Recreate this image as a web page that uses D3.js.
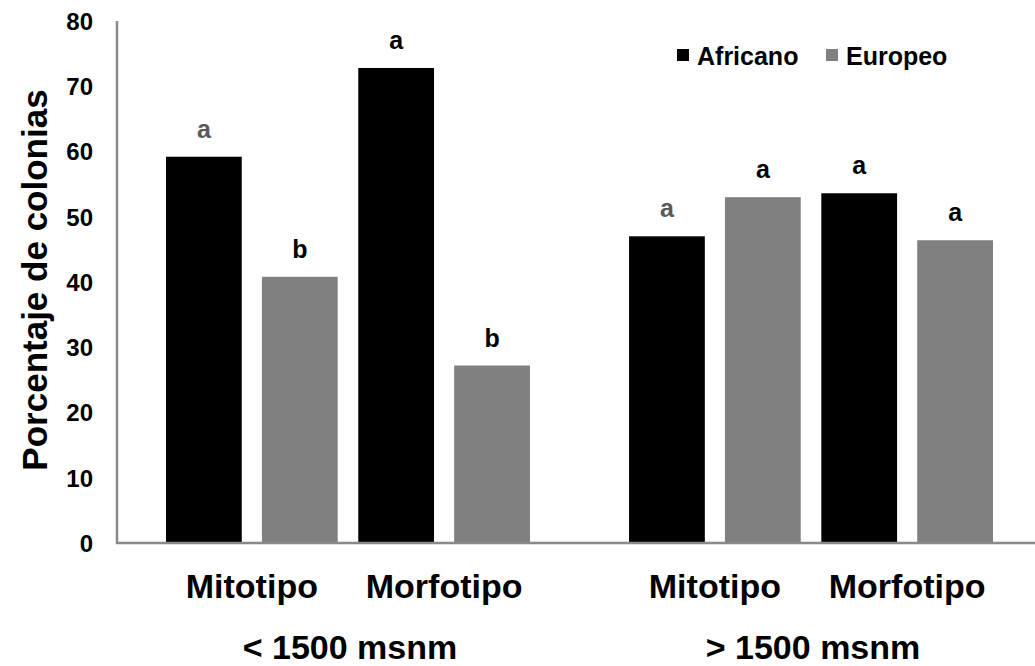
<!DOCTYPE html>
<html>
<head>
<meta charset="utf-8">
<script src="https://cdn.jsdelivr.net/npm/d3@7"></script>
<style>
  html, body { margin: 0; padding: 0; background: #fff; }
  svg { display: block; font-family: "Liberation Sans", Arial, sans-serif; font-weight: bold; }
</style>
</head>
<body>
<svg id="chart" width="1035" height="666"></svg>
<script>
// Altitude groups, colony classification method and bee lineage
const groups = ["< 1500 msnm", "> 1500 msnm"];
const categories = ["Mitotipo", "Morfotipo"];
const seriesNames = ["Africano", "Europeo"];

// Percentage of colonies, ordered group by group, category by category
const africano = [59.2, 72.8, 47.0, 53.6];
const europeo  = [40.8, 27.2, 53.0, 46.4];

// Significance letters over each bar
const africanoLetters = ["a", "a", "a", "a"];
const europeoLetters  = ["b", "b", "a", "a"];

const yTicks = [0, 10, 20, 30, 40, 50, 60, 70, 80];

// ---- styling ----
const colors = { Africano: "#000000", Europeo: "#808080" };
const axisColor = "#898989";
const mutedLetterColor = "#595959";
const mutedLetterKeys = ["< 1500 msnm|Mitotipo|Africano", "> 1500 msnm|Mitotipo|Africano"];

const svg = d3.select("#chart");

const y = d3.scaleLinear().domain([0, 80]).range([543, 21]);

const x0 = d3.scaleBand().domain(groups).range([119.7, 1039.3])
  .paddingInner(0.214).paddingOuter(0.1);
const x1 = d3.scaleBand().domain(categories).range([0, x0.bandwidth()])
  .paddingInner(0.107).paddingOuter(0);
const x2 = d3.scaleBand().domain(seriesNames).range([0, x1.bandwidth()])
  .paddingInner(0.21).paddingOuter(0);

// Flatten the series into one record per bar
const rows = [];
groups.forEach((g, gi) => {
  categories.forEach((c, ci) => {
    const i = gi * categories.length + ci;
    rows.push({ group: g, category: c, series: "Africano", value: africano[i], letter: africanoLetters[i] });
    rows.push({ group: g, category: c, series: "Europeo", value: europeo[i], letter: europeoLetters[i] });
  });
});
const barX = d => x0(d.group) + x1(d.category) + x2(d.series);

// Bars
svg.append("g").selectAll("rect").data(rows).join("rect")
  .attr("x", barX)
  .attr("y", d => y(d.value))
  .attr("width", x2.bandwidth())
  .attr("height", d => y(0) - y(d.value))
  .attr("fill", d => colors[d.series]);

// Letters above bars
svg.append("g").selectAll("text").data(rows).join("text")
  .attr("x", d => barX(d) + x2.bandwidth() / 2)
  .attr("y", d => y(d.value) - 19)
  .attr("text-anchor", "middle")
  .attr("font-size", 25)
  .attr("fill", d => mutedLetterKeys.includes(`${d.group}|${d.category}|${d.series}`) ? mutedLetterColor : "#000")
  .text(d => d.letter);

// Y axis tick labels
const yAxis = d3.axisLeft(y).tickValues(yTicks).tickSize(0).tickPadding(0).tickFormat(d3.format("d"));
const gy = svg.append("g").attr("transform", "translate(93,0)").call(yAxis);
gy.select(".domain").remove();
gy.selectAll("text")
  .attr("font-size", 24)
  .attr("font-family", "'Liberation Sans', Arial, sans-serif")
  .attr("font-weight", "bold")
  .attr("fill", "#000")
  .attr("dy", "0.35em");

// Axis lines
svg.append("line")
  .attr("x1", 117).attr("x2", 117).attr("y1", y(80)).attr("y2", y(0) + 1)
  .attr("stroke", axisColor).attr("stroke-width", 2.5);
svg.append("line")
  .attr("x1", 116).attr("x2", 1035).attr("y1", y(0)).attr("y2", y(0))
  .attr("stroke", axisColor).attr("stroke-width", 2.5);

// Category labels
const catLabels = [];
groups.forEach(g => categories.forEach(c => catLabels.push({ group: g, category: c })));
svg.append("g").selectAll("text").data(catLabels).join("text")
  .attr("x", d => x0(d.group) + x1(d.category) + x1.bandwidth() / 2)
  .attr("y", 598)
  .attr("text-anchor", "middle")
  .attr("font-size", 34)
  .text(d => d.category);

// Group labels
svg.append("g").selectAll("text").data(groups).join("text")
  .attr("x", d => x0(d) + x0.bandwidth() / 2 + 2)
  .attr("y", 659)
  .attr("text-anchor", "middle")
  .attr("font-size", 34)
  .text(d => d);

// Y axis title
svg.append("text")
  .attr("transform", "translate(47,280) rotate(-90)")
  .attr("text-anchor", "middle")
  .attr("font-size", 35)
  .text("Porcentaje de colonias");

// Legend
const legendPos = { Africano: 677, Europeo: 826 };
const lg = svg.append("g").selectAll("g").data(seriesNames).join("g")
  .attr("transform", d => `translate(${legendPos[d]},49)`);
lg.append("rect").attr("width", 12).attr("height", 12).attr("fill", d => colors[d]);
lg.append("text").attr("x", 20).attr("y", 16).attr("font-size", 25).text(d => d);
</script>
</body>
</html>
